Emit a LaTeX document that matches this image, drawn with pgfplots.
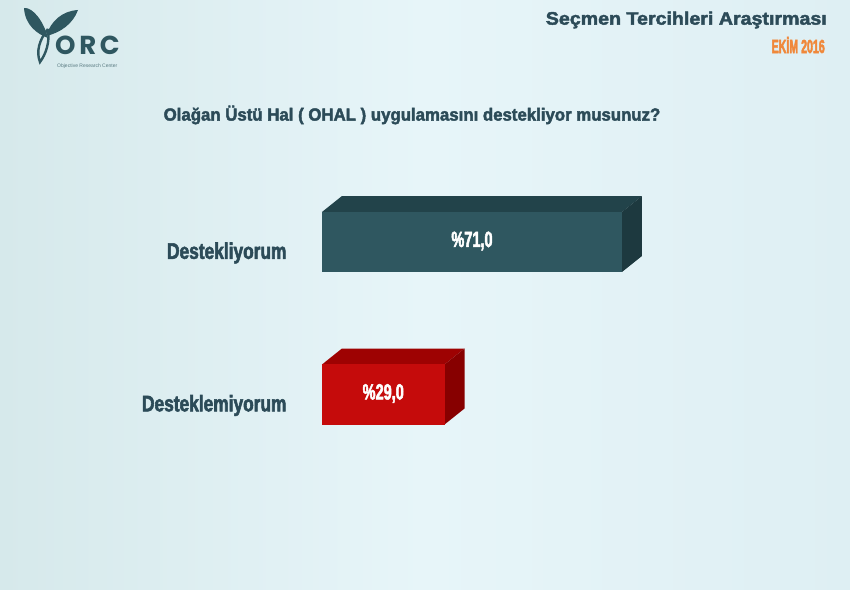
\documentclass[border=0pt]{standalone}
\usepackage{fontspec}
\setmainfont{Liberation Sans}
\newfontfamily\fHead{Liberation Sans}[FakeStretch=1.09, BoldFeatures={FakeBold=2.4}]
\newfontfamily\fDate{Liberation Sans}[FakeStretch=0.56, BoldFeatures={FakeBold=2.4}]
\newfontfamily\fQuest{Liberation Sans}[FakeStretch=0.96, BoldFeatures={FakeBold=2.4}]
\newfontfamily\fCat{Liberation Sans}[FakeStretch=0.77, BoldFeatures={FakeBold=2.4}]
\newfontfamily\fVal{Liberation Sans}[FakeStretch=0.66, BoldFeatures={FakeBold=2.4}]
\newfontfamily\logofont{Poppins}[LetterSpace=14]
\usepackage{pgfplots}
\usepackage{pgfplotstable}
\pgfplotsset{compat=1.18}

\definecolor{bgleft}{HTML}{D6E9EB}
\definecolor{bgmid}{HTML}{E7F5F9}
\definecolor{bgright}{HTML}{DEEFF3}
\definecolor{slatefront}{HTML}{2F5760}
\definecolor{slatetop}{HTML}{22434A}
\definecolor{slateside}{HTML}{1D393F}
\definecolor{redfront}{HTML}{C50B0B}
\definecolor{redtop}{HTML}{9E0202}
\definecolor{redside}{HTML}{870000}
\definecolor{textcol}{HTML}{2C4B58}
\definecolor{orangecol}{HTML}{F0883A}

\pgfplotstableread{
y v
1 71.0
0 29.0
}\data

\begin{document}
\begin{tikzpicture}
\begin{axis}[
    scale only axis,
    width=850pt, height=589pt,
    xmin=-76.21, xmax=124.97,
    ymin=-1.2754, ymax=2.5869,
    axis line style={draw=none},
    tick style={draw=none},
    xtick=\empty,
    ytick={0,1},
    yticklabels={Desteklemiyorum, Destekliyorum},
    yticklabel style={anchor=east, xshift=290pt, yshift=-11pt, text=textcol,
        font=\fCat\bfseries\fontsize{22.5}{24}\selectfont},
    axis background/.style={left color=bgleft, right color=bgright, middle color=bgmid},
    clip=false,
]
% 3D faces of the bars (depth 20px right, 16px up)
\addplot[fill=slatetop, draw=none] coordinates {(0,1.1967) (71,1.1967) (75.73,1.3016) (4.73,1.3016)} -- cycle;
\addplot[fill=slateside, draw=none] coordinates {(71,1.1967) (75.73,1.3016) (75.73,0.9082) (71,0.8033)} -- cycle;
\addplot[fill=redtop, draw=none] coordinates {(0,0.1967) (29,0.1967) (33.73,0.3016) (4.73,0.3016)} -- cycle;
\addplot[fill=redside, draw=none] coordinates {(29,0.1967) (33.73,0.3016) (33.73,-0.0918) (29,-0.1967)} -- cycle;
% front faces
\addplot[xbar, bar width=60pt, bar shift=0pt, fill=slatefront, draw=none] coordinates {(71.0,1)};
\addplot[xbar, bar width=60pt, bar shift=0pt, fill=redfront, draw=none] coordinates {(29.0,0)};
% value labels
\addplot[draw=none, point meta=explicit,
    nodes near coords={\%\pgfmathprintnumber[fixed,fixed zerofill,precision=1,use comma,assume math mode=true]{\pgfplotspointmeta}},
    every node near coord/.style={anchor=center, yshift=1pt, text=white, font=\fVal\bfseries\fontsize{22}{24}\selectfont}]
    table[x expr=\thisrow{v}/2, y=y, meta=v] {\data};
\end{axis}
\begin{scope}[shift={(current axis.north west)}, x=1pt, y=-1pt]
  % logo
  \fill[slatefront] (24,8) .. controls (33,7) and (44,22) .. (48,38)
      .. controls (37,34) and (25,25) .. (24,8) -- cycle;
  \fill[slatefront] (46,36) .. controls (51,21) and (62,11) .. (78,10)
      .. controls (73,24) and (60,33) .. (46,36) -- cycle;
  \draw[slatefront, line width=2.4pt] (48,29) .. controls (39,40) and (36,52) .. (40,62)
      .. controls (46,54) and (50,42) .. (48,29);
  \node[anchor=base west, inner sep=0pt, text depth=0pt, text=slatefront, font=\logofont\bfseries\fontsize{26}{28}\selectfont] at (55,55) {ORC};
  \node[anchor=west, inner sep=0pt, text=slatefront!80, font=\fontsize{5}{5}\selectfont] at (57,66) {Objective Research Center};
  % header
  \node[anchor=east, inner sep=0pt, text=textcol, font=\fHead\bfseries\fontsize{18}{20}\selectfont] at (827,20) {Seçmen Tercihleri Araştırması};
  \node[anchor=east, inner sep=0pt, text=orangecol, font=\fDate\bfseries\fontsize{19}{21}\selectfont] at (825,45) {EKİM 2016};
  % question
  \node[inner sep=0pt, text=textcol, font=\fQuest\bfseries\fontsize{17.5}{20}\selectfont] at (412,115) {Olağan Üstü Hal ( OHAL ) uygulamasını destekliyor musunuz?};
\end{scope}
\pgfresetboundingbox
\path[use as bounding box] (current axis.south west) rectangle (current axis.north east);
\end{tikzpicture}
\end{document}
